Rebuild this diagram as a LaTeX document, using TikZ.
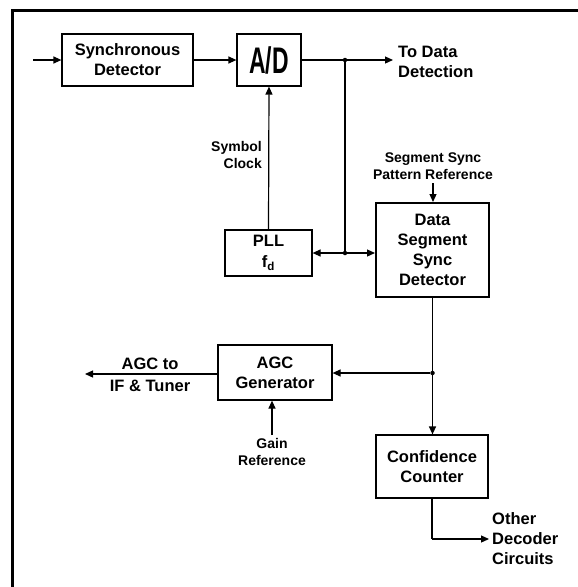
\documentclass[tikz,border=0pt]{standalone}
\usepackage{fontspec}
\setmainfont{Liberation Sans}
\usetikzlibrary{arrows.meta}
\begin{document}
\begin{tikzpicture}[x=1pt,y=-1pt,
  big/.style={font=\fontsize{16.5}{20}\selectfont\bfseries},
  small/.style={font=\fontsize{14}{17.5}\selectfont\bfseries},
  blk/.style={draw,line width=1.2pt,inner sep=0pt,align=center,big},
  lbl/.style={inner sep=0pt},
  conn/.style={line width=1.2pt,-{Triangle[length=8pt,width=7pt]}},
  plain/.style={line width=1.2pt},
  dot/.style={circle,fill,inner sep=0pt,minimum size=4.5pt}]
\useasboundingbox (0,0) rectangle (578,587);
\draw[line width=3pt] (12,587) -- (12,10) -- (578,10);
% blocks
\node[blk,minimum width=131pt,minimum height=52pt] (sd) at (127.5,60) {Synchronous\\Detector};
\node[blk,minimum width=64pt,minimum height=52pt] (ad) at (269,60) {\scalebox{0.62}[1]{\fontsize{37}{37}\selectfont\bfseries A/D}};
\node[blk,minimum width=87pt,minimum height=46pt] (pll) at (268.5,253) {PLL\\[1pt]f\textsubscript{d}};
\node[blk,line width=2pt,minimum width=113pt,minimum height=94pt] (dssd) at (432.5,250) {Data\\Segment\\Sync\\Detector};
\node[blk,minimum width=114pt,minimum height=55pt] (agc) at (275,372.5) {AGC\\Generator};
\node[blk,minimum width=112pt,minimum height=63pt] (cc) at (432,466.5) {Confidence\\Counter};
% labels
\coordinate (in) at (33,60);
\node[lbl,big,align=left,anchor=west] (todata) at (398,62) {To Data\\Detection};
\node[lbl,small,align=right,anchor=east] (symclk) at (262,155) {Symbol\\Clock};
\node[lbl,small,align=center] (ssref) at (433,166) {Segment Sync\\Pattern Reference};
\node[lbl,big] (agcto) at (150,364) {AGC to};
\node[lbl,big] (iftun) at (150,386) {IF \& Tuner};
\node[lbl,small,align=center] (gain) at (272,452) {Gain\\Reference};
\node[lbl,big,align=left,anchor=west] (other) at (492,539) {Other\\Decoder\\Circuits};
% junctions
\node[dot] (j1) at (345,60) {};
\node[dot] (j2) at (345,253) {};
\node[dot] (j3) at (dssd.south |- 0,373) {};
\coordinate (tdend) at (393,60);
\coordinate (ssstart) at (433,183);
\coordinate (agcend) at (85,374);
\coordinate (gstart) at (272,435);
\coordinate (ccturn) at (cc.south |- 0,539);
\coordinate (ccend) at (489,539);
% connectors
\draw[conn] (in) -- (sd.west |- in);
\draw[conn] (sd.east |- in) -- (ad.west |- in);
\draw[plain] (ad.east |- j1) -- (j1);
\draw[conn] (j1) -- (tdend);
\draw[plain] (j1) -- (j2);
\draw[conn] (j2) -- (pll.east |- j2);
\draw[conn] (j2) -- (dssd.west |- j2);
\draw[conn] (pll.north) -- (ad.south);
\draw[conn] (ssstart) -- (ssstart |- dssd.north);
\draw[plain] (dssd.south) -- (j3);
\draw[conn] (j3) -- (cc.north -| j3);
\draw[conn] (j3) -- (agc.east |- j3);
\draw[conn] (agc.west |- agcend) -- (agcend);
\draw[conn] (gstart) -- (gstart |- agc.south);
\draw[plain] (cc.south) -- (ccturn);
\draw[conn] (ccturn) -- (ccend);
\end{tikzpicture}
\end{document}
